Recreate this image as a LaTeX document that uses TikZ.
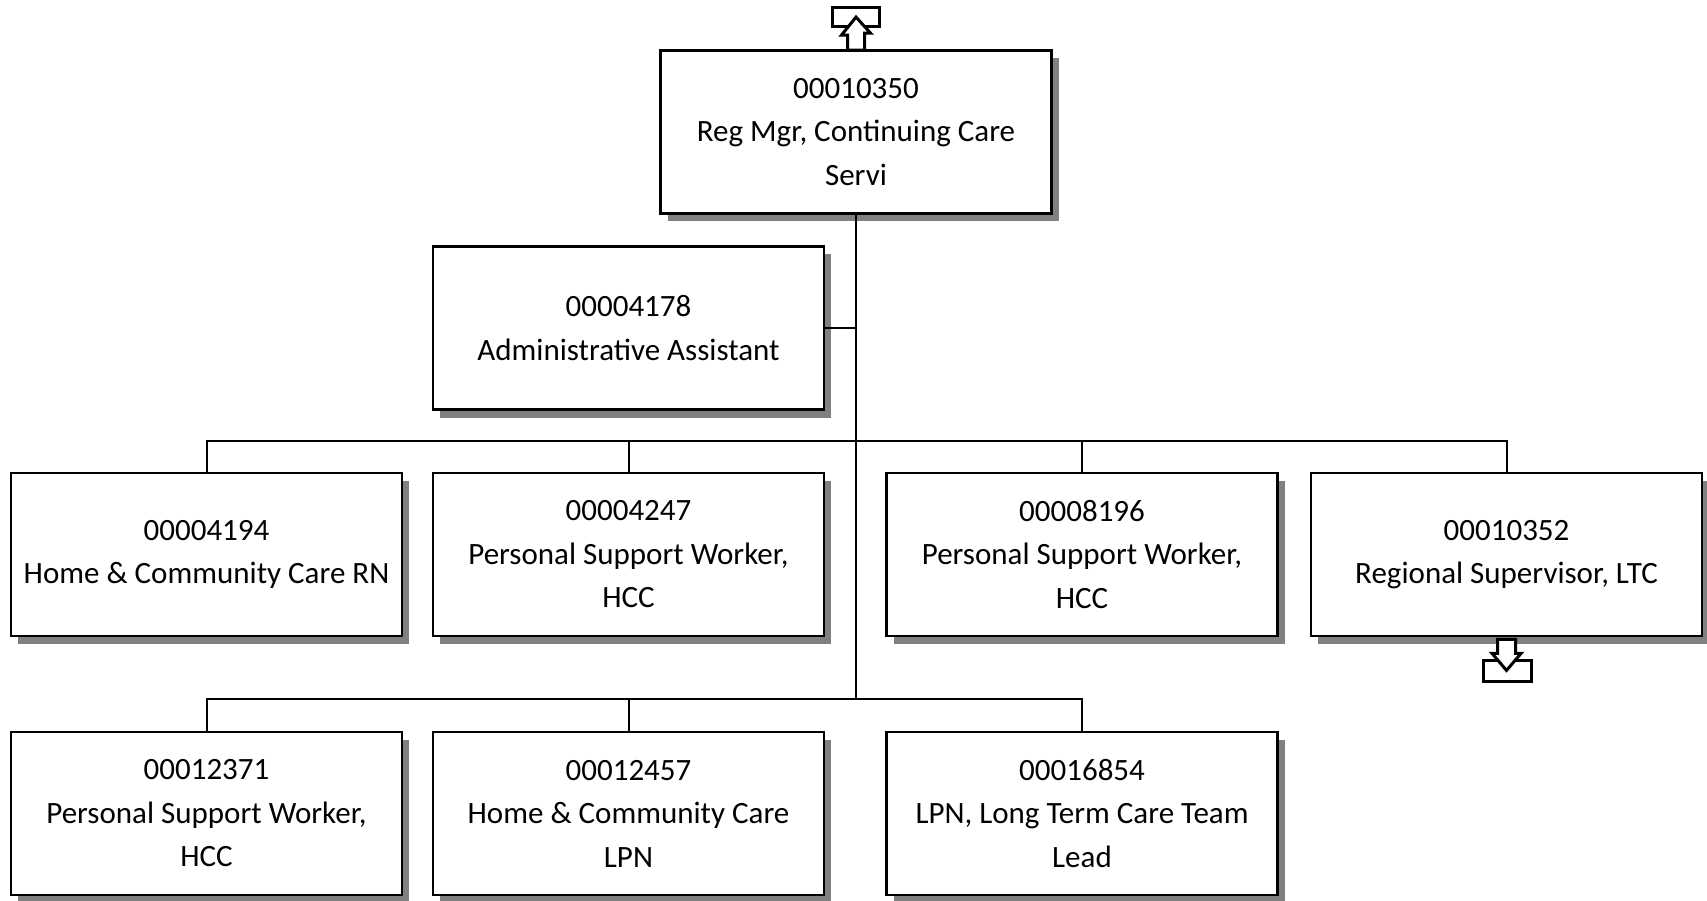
\documentclass[tikz,border=0pt]{standalone}
\usepackage{fontspec}
\setmainfont{Carlito}
\usetikzlibrary{shadows}
\begin{document}
\begin{tikzpicture}[x=1pt,y=-1pt,
  posbox/.style={draw, line width=2.8pt, fill=white, minimum width=391pt, minimum height=163pt,
    align=center, inner sep=0pt, font=\fontsize{31}{43.5}\selectfont,
    drop shadow={shadow xshift=7pt, shadow yshift=-8pt, fill=black!50, opacity=1}},
  conn/.style={line width=2pt},
  icon/.style={line width=3pt, line join=miter}]
\useasboundingbox (0,0) rectangle (1707,901);
\node[posbox] (top) at (856,132) {00010350\\Reg Mgr, Continuing Care\\Servi};
\node[posbox] (admin) at (628.5,328) {00004178\\Administrative Assistant};
\node[posbox] (r21) at (206.5,554.5) {00004194\\Home \& Community Care RN};
\node[posbox] (r22) at (628.5,554.5) {00004247\\Personal Support Worker,\\HCC};
\node[posbox] (r23) at (1082,554.5) {00008196\\Personal Support Worker,\\HCC};
\node[posbox] (r24) at (1506.5,554.5) {00010352\\Regional Supervisor, LTC};
\node[posbox] (r31) at (206.5,813.5) {00012371\\Personal Support Worker,\\HCC};
\node[posbox] (r32) at (628.5,813.5) {00012457\\Home \& Community Care\\LPN};
\node[posbox] (r33) at (1082,813.5) {00016854\\LPN, Long Term Care Team\\Lead};
\coordinate (b2) at (856,441);
\coordinate (b3) at (856,699);
% trunk
\draw[conn] (top.south) -- (b3);
\draw[conn] (admin.east) -- (admin.east -| top.south);
% bus row 2
\draw[conn] (r21.north) -- (r21.north |- b2) -- (r24.north |- b2) -- (r24.north);
\draw[conn] (r22.north) -- (r22.north |- b2);
\draw[conn] (r23.north) -- (r23.north |- b2);
% bus row 3
\draw[conn] (r31.north) -- (r31.north |- b3) -- (r33.north |- b3) -- (r33.north);
\draw[conn] (r32.north) -- (r32.north |- b3);
% top icon
\draw[icon] ([xshift=-24pt,yshift=42pt]top.north) rectangle ([xshift=23pt,yshift=23pt]top.north);
\draw[icon, fill=white] ([xshift=-8.5pt,yshift=-1pt]top.north) -- ++(0,-15) -- ++(-6,0) -- ([yshift=32pt]top.north) -- ([xshift=14.5pt,yshift=16pt]top.north) -- ++(-6,0) -- ([xshift=8.5pt,yshift=-1pt]top.north) -- cycle;
% bottom icon
\draw[icon] ([xshift=-23.5pt,yshift=-23pt]r24.south) rectangle ([xshift=24.5pt,yshift=-44pt]r24.south);
\draw[icon, fill=white] ([xshift=-9pt,yshift=-2pt]r24.south) -- ++(0,14) -- ++(-5.5,0) -- ([yshift=-33pt]r24.south) -- ([xshift=14.5pt,yshift=-16pt]r24.south) -- ++(-5.5,0) -- ([xshift=9pt,yshift=-2pt]r24.south) -- cycle;
\end{tikzpicture}
\end{document}
